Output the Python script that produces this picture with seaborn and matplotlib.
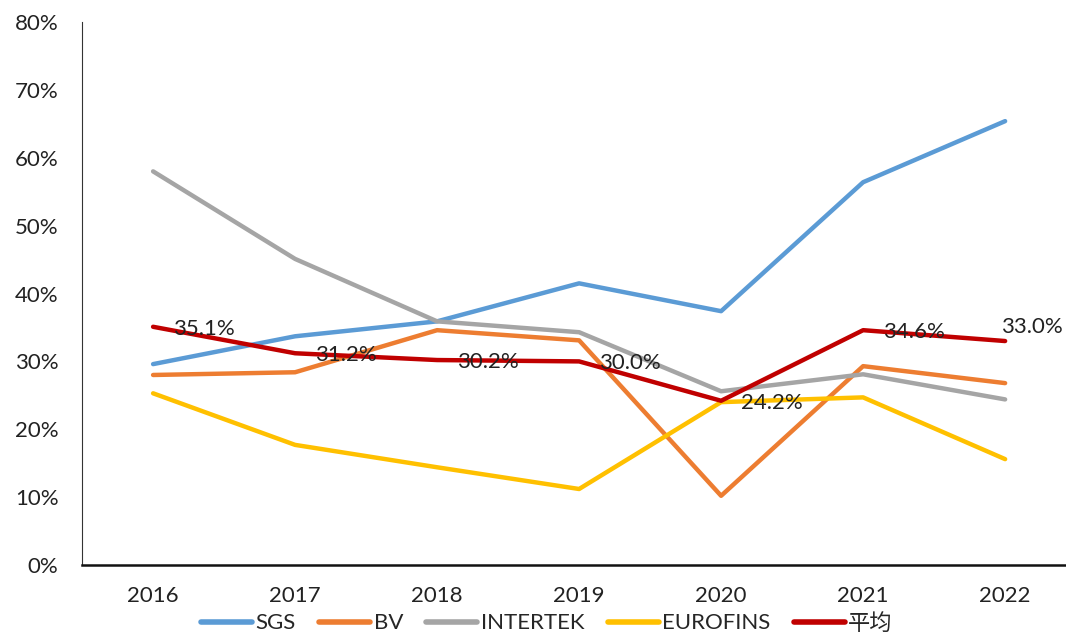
import pandas as pd
import numpy as np
import matplotlib
matplotlib.use('Agg')
import matplotlib.pyplot as plt
from matplotlib.ticker import PercentFormatter, FixedLocator
import seaborn as sns

years = ['2016', '2017', '2018', '2019', '2020', '2021', '2022']
sgs = [29.6, 33.7, 35.9, 41.5, 37.4, 56.4, 65.4]
bv = [28.0, 28.4, 34.6, 33.1, 10.2, 29.3, 26.8]
intertek = [58.0, 45.1, 35.9, 34.3, 25.6, 28.1, 24.4]
eurofins = [25.3, 17.7, 14.4, 11.2, 24.0, 24.7, 15.6]
avg = [35.1, 31.2, 30.2, 30.0, 24.2, 34.6, 33.0]
series_names = ['SGS', 'BV', 'INTERTEK', 'EUROFINS', '平均']
COLORS = ['#5B9BD5', '#ED7D31', '#A5A5A5', '#FFC000', '#C00000']

sns.set_style('white')
plt.rcParams['font.family'] = ['Lato', 'Noto Sans CJK SC', 'DejaVu Sans']
plt.rcParams['font.size'] = 16

rows = []
for name, vals in zip(series_names, [sgs, bv, intertek, eurofins, avg]):
    for i, (yr, v) in enumerate(zip(years, vals)):
        rows.append({'idx': i, 'year': yr, 'series': name, 'value': v})
df = pd.DataFrame(rows)

fig = plt.figure(figsize=(10.66, 6.37), dpi=100)
ax = fig.add_axes([0.077, 0.113, 0.9325, 0.8524])
sns.lineplot(data=df, x='idx', y='value', hue='series', hue_order=series_names,
             palette=COLORS, linewidth=3.2, ax=ax, legend=False, sort=False)

# data labels for the average line
for i, v in enumerate(avg):
    dx, dy = (14, -1.5) if i < len(avg) - 1 else (-3, 10)
    ax.annotate(f'{v:.1f}%', (i, v), xytext=(dx, dy), textcoords='offset points',
                ha='left', va='center', fontsize=16, color='#222222')

ax.set_xlim(-0.5, 6.5)
ax.set_ylim(0, 80)
ax.set_xticks(range(len(years)))
ax.set_xticklabels(years)
ax.xaxis.set_minor_locator(FixedLocator(np.arange(0.5, 6.5, 1)))
ax.yaxis.set_major_formatter(PercentFormatter(decimals=0))
ax.set_yticks(range(0, 81, 10))
ax.tick_params(axis='y', direction='in', length=7, width=1, color='#333333',
               labelsize=16, labelcolor='#222222', pad=17)
ax.tick_params(axis='x', which='major', length=0, labelsize=16, labelcolor='#222222', pad=15)
ax.tick_params(axis='x', which='minor', direction='in', length=7, width=1, color='#333333')
ax.set_xlabel('')
ax.set_ylabel('')
for side in ['top', 'right']:
    ax.spines[side].set_visible(False)
ax.spines['left'].set_color('#333333')
ax.spines['bottom'].set_color('#111111')
ax.spines['bottom'].set_linewidth(1.8)

handles = [plt.Line2D([], [], color=c, linewidth=4, solid_capstyle='round') for c in COLORS]
fig.legend(handles, series_names, loc='center', bbox_to_anchor=(0.513, 0.022),
           ncol=5, frameon=False, fontsize=16, handlelength=2.3, handletextpad=0.15,
           columnspacing=1.05, borderpad=0)

plt.savefig('out.png', dpi=100)
plt.close()
